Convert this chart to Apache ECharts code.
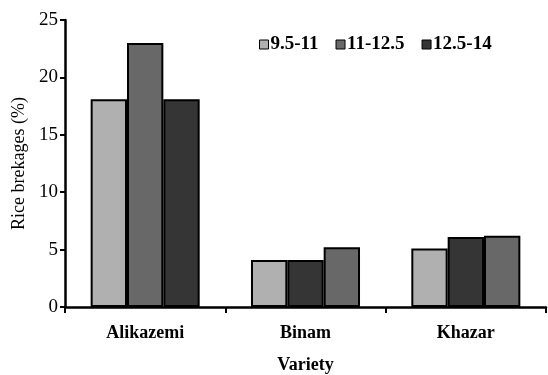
<!DOCTYPE html>
<html><head><meta charset="utf-8">
<script src="https://cdn.jsdelivr.net/npm/echarts@6/dist/echarts.min.js"></script>
<style>html,body{margin:0;padding:0;background:#fff}#c{width:548px;height:375px}</style>
</head><body><div id="c"></div>
<script>
const categories = ['Alikazemi', 'Binam', 'Khazar'];
const seriesNames = ['9.5-11', '11-12.5', '12.5-14'];
const s1 = [18.1, 4.1, 5.1];
const s2 = [23.0, 4.1, 6.1];
const s3 = [18.1, 5.2, 6.2];
const yTicks = [0, 5, 10, 15, 20, 25];

const LIGHT = '#b0b0b0', MID = '#686868', DARK = '#353535';
// colours per bar as drawn in the original figure
const colours = [
  [LIGHT, LIGHT, LIGHT],
  [MID, DARK, DARK],
  [DARK, MID, MID]
];
const values = [s1, s2, s3];
const seriesColours = [LIGHT, MID, DARK];
const font = 'Liberation Serif';

const chart = echarts.init(document.getElementById('c'));
chart.setOption({
  animation: false,
  backgroundColor: '#fff',
  grid: {left: 65, right: 2, top: 20, bottom: 68, containLabel: false, outerBoundsMode: 'none'},
  legend: {
    data: seriesNames,
    left: 254, top: 30,
    itemWidth: 9, itemHeight: 9, itemGap: 17,
    icon: 'rect',
    itemStyle: {borderColor: '#000', borderWidth: 1},
    textStyle: {fontFamily: font, fontWeight: 'bold', fontSize: 19, color: '#000', padding: [0,0,0,-3]},
  },
  xAxis: {
    type: 'category', data: categories,
    name: 'Variety', nameLocation: 'middle', nameGap: 49,
    nameTextStyle: {fontFamily: font, fontWeight: 'bold', fontSize: 18, color: '#000'},
    axisLine: {lineStyle: {color: '#000', width: 2.5}},
    axisTick: {show: true, length: 6, lineStyle: {color: '#000', width: 2}},
    axisLabel: {fontFamily: font, fontWeight: 'bold', fontSize: 18, color: '#000', margin: 17}
  },
  yAxis: {
    type: 'value', min: 0, max: 25, interval: 5,
    name: 'Rice brekages (%)', nameLocation: 'middle', nameGap: 36,
    nameTextStyle: {fontFamily: font, fontSize: 18, color: '#000'},
    axisLine: {show: true, lineStyle: {color: '#000', width: 2.5}},
    axisTick: {show: true, length: 5, lineStyle: {color: '#000', width: 2}},
    splitLine: {show: false},
    axisLabel: {fontFamily: font, fontSize: 19, color: '#000', margin: 7,
      formatter: v => yTicks.includes(v) ? String(v) : ''}
  },
  series: seriesNames.map((name, i) => ({
    name, type: 'bar',
    barGap: '0%', barCategoryGap: '32%',
    itemStyle: {color: seriesColours[i], borderColor: '#000', borderWidth: 2},
    data: values[i].map((v, j) => ({value: v, itemStyle: {color: colours[i][j]}}))
  }))
});
</script></body></html>
